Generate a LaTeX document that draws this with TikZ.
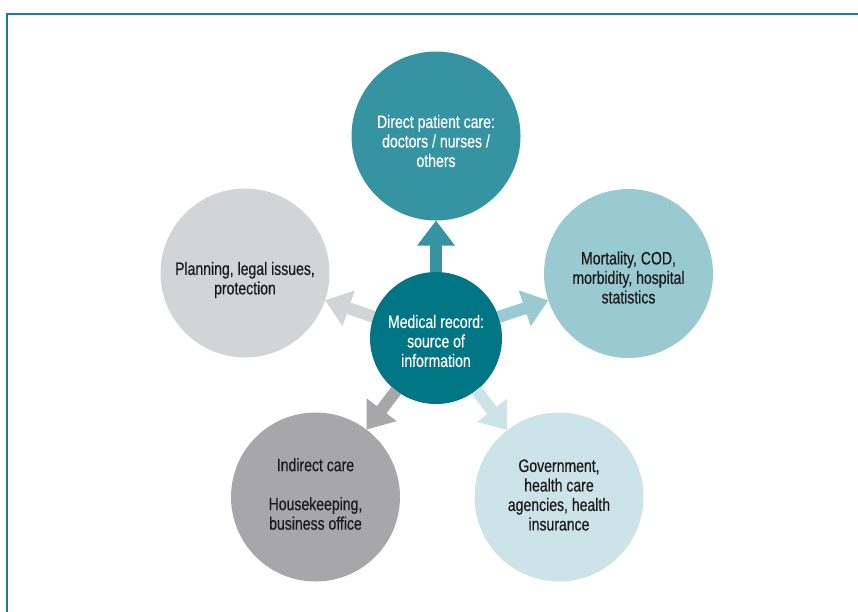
\documentclass[tikz,border=0pt]{standalone}
\usepackage{fontspec}
\setmainfont[FakeStretch=0.78,FakeBold=0.4]{Liberation Sans}
\usetikzlibrary{arrows.meta}
\definecolor{cMain}{HTML}{007685}
\definecolor{cTop}{HTML}{3593A2}
\definecolor{cRight}{HTML}{99C9D1}
\definecolor{cBR}{HTML}{CCE3E7}
\definecolor{cBL}{HTML}{A7A7AA}
\definecolor{cLeft}{HTML}{D3D4D6}
\definecolor{cFrame}{HTML}{1A7F8C}
\definecolor{cText}{HTML}{1A1A1A}
\begin{document}
\begin{tikzpicture}[x=1pt,y=-1pt,
  bub/.style={circle, minimum size=169pt, inner sep=0pt, outer sep=0pt},
  hub/.style={bub, minimum size=132pt},
  txt/.style={align=center, inner sep=0pt, font=\fontsize{18}{19.5}\selectfont, text=cText},
  arr/.style={line width=12pt, -{Triangle[width=36pt,length=25pt]}},
  frameline/.style={draw=cFrame, line width=1.6pt}]
\useasboundingbox (0,0) rectangle (858,611);
\draw[frameline] (7,612) -- (7,14) -- (859,14);

\node[hub, fill=cMain] (c) at (436,338) {};
\node[bub, fill=cTop] (top) at (436,136) {};
\node[bub, fill=cRight] (right) at (628.5,273.5) {};
\node[bub, fill=cLeft] (left) at (245,273) {};
\node[bub, fill=cBL] (bl) at (315.5,497) {};
\node[bub, fill=cBR] (br) at (559,497) {};

\node[txt, text=white] (ct) at ([yshift=-3pt]c.center) {Medical record:\\source of\\information};
\node[txt, text=white] (topt) at ([yshift=-5pt]top.center) {Direct patient care:\\doctors / nurses /\\others};
\node[txt] (rightt) at ([yshift=-4pt]right.center) {Mortality, COD,\\morbidity, hospital\\statistics};
\node[txt] (leftt) at ([yshift=-7pt]left.center) {Planning, legal issues,\\protection};
\node[txt] (blt) at ([yshift=3pt]bl.center) {Indirect care\\[19.5pt]Housekeeping,\\business office};
\node[txt] (brt) at ([yshift=2pt]br.center) {Government,\\health care\\agencies, health\\insurance};

\draw[arr, cTop] (c) -- (top);
\draw[arr, cRight] (c) -- (right);
\draw[arr, cLeft] (c) -- (left);
\draw[arr, cBL] (c) -- (bl);
\draw[arr, cBR] (c) -- (br);
\end{tikzpicture}
\end{document}
